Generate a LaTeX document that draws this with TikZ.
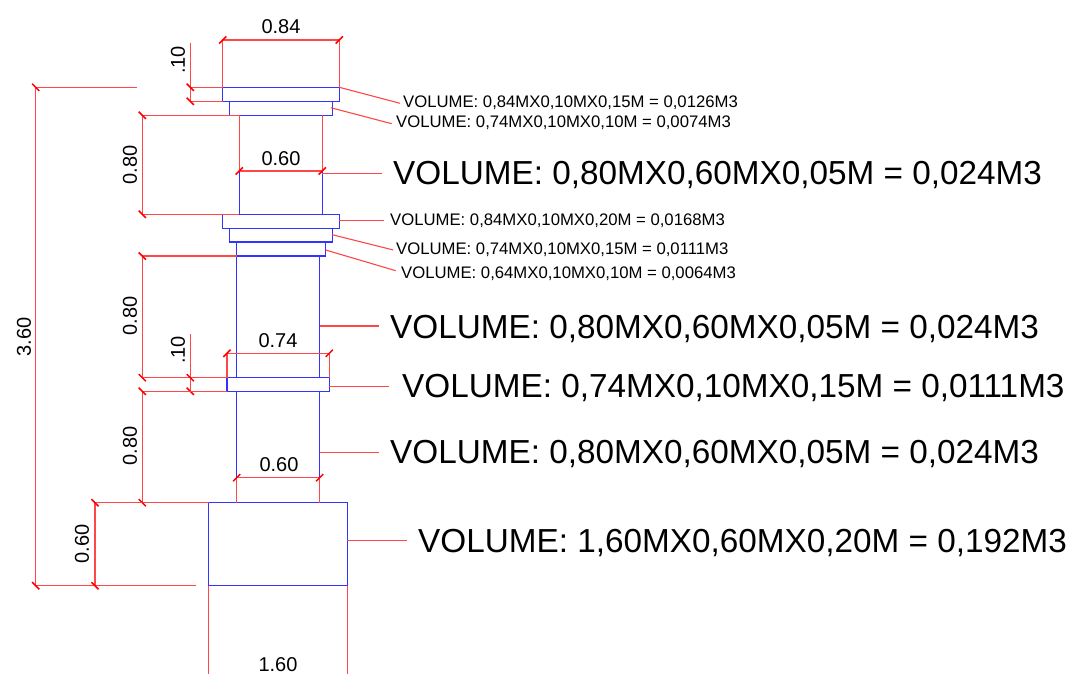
\documentclass[tikz,border=0pt]{standalone}
\usepackage{fontspec}
\setmainfont{Liberation Sans}

\tikzset{
  wall/.style={draw=blue!80!white,line width=1.1pt},
  dimline/.style={draw=red!72!white,line width=1.1pt},
  slash/.style={draw=red,line width=1.5pt},
  dimlabel/.style={font=\fontsize{20}{20}\selectfont,inner sep=0pt},
  volsmall/.style={font=\fontsize{16.7}{16.7}\selectfont,inner sep=0pt,anchor=west},
  vollarge/.style={font=\fontsize{33.3}{33.3}\selectfont,inner sep=0pt,anchor=west}
}
% slashes at the ends of the dimension lines
\newcommand{\tickv}[1]{\draw[slash] ([shift={(-3.6,-3.6)}]#1) -- ([shift={(3.6,3.6)}]#1);}
\newcommand{\tickh}[1]{\draw[slash] ([shift={(-3.6,3.6)}]#1) -- ([shift={(3.6,-3.6)}]#1);}

\begin{document}
\begin{tikzpicture}[x=1pt,y=-1pt]
\useasboundingbox (0,0) rectangle (1070,674);

% the column, top to bottom
\draw[wall] (222.7,87.3) rectangle (339.3,101.3);
\draw[wall] (229.7,101.3) rectangle (332.3,115.3);
\draw[wall] (239.3,171) -- (239.3,214.3);
\draw[wall] (322.3,171) -- (322.3,214.3);
\draw[wall] (222.7,214.3) rectangle (339.3,228.3);
\draw[wall] (229.7,228.3) rectangle (332.3,242);
\draw[wall] (236.7,242) rectangle (325.7,256);
\draw[wall] (236.7,256) -- (236.7,377.7);
\draw[wall] (319.7,256) -- (319.7,377.7);
\draw[wall] (227,377.7) rectangle (329.3,391.3);
\draw[wall] (236.7,391.3) -- (236.7,477.7);
\draw[wall] (319.7,391.3) -- (319.7,477.7);
\draw[wall] (208.7,502.7) rectangle (347.3,585.7);

% overall height
\draw[dimline] (136.7,87.3) -- (35.7,87.3) -- (35.7,585.7) -- (195.7,585.7);
\tickv{35.7,87.3}
\tickv{35.7,585.7}
\node[dimlabel,rotate=90] (hTotal) at (24,337) {3.60};

% 0.84 and .10 at the top
\draw[dimline] (222.7,87.3) -- (222.7,40) -- (339.3,40) -- (339.3,87.3);
\tickh{222.7,40}
\tickh{339.3,40}
\node[dimlabel] (wTop) at (281,27) {0.84};
\draw[dimline] (190.3,43) -- (190.3,101.3);
\draw[dimline] (190.3,87.3) -- (222.7,87.3);
\draw[dimline] (190.3,101.3) -- (222.7,101.3);
\tickv{190.3,87.3}
\tickv{190.3,101.3}
\node[dimlabel,rotate=90] (hTop) at (178,60) {.10};

% upper shaft
\draw[dimline] (239.3,115.3) -- (142.3,115.3) -- (142.3,214.3) -- (239.3,214.3);
\tickv{142.3,115.3}
\tickv{142.3,214.3}
\node[dimlabel,rotate=90] (hShaftA) at (130,165) {0.80};
\draw[dimline] (239.3,115.3) -- (239.3,171) -- (322.3,171) -- (322.3,115.3);
\tickh{239.3,171}
\tickh{322.3,171}
\node[dimlabel] (wShaftA) at (281,159) {0.60};

% middle shaft
\draw[dimline] (236.7,256) -- (142.3,256) -- (142.3,377.7) -- (227,377.7);
\tickv{142.3,256}
\tickv{142.3,377.7}
\node[dimlabel,rotate=90] (hShaftB) at (130,316) {0.80};
\draw[dimline] (190.3,334) -- (190.3,391.3);
\tickv{190.3,377.7}
\tickv{190.3,391.3}
\node[dimlabel,rotate=90] (hBand) at (178,350) {.10};
\draw[dimline] (227,377.7) -- (227,353.3) -- (329.3,353.3) -- (329.3,377.7);
\tickh{227,353.3}
\tickh{329.3,353.3}
\node[dimlabel] (wBand) at (278,341) {0.74};

% lower shaft
\draw[dimline] (227,391.3) -- (142.3,391.3) -- (142.3,502.7) -- (208.7,502.7);
\tickv{142.3,391.3}
\tickv{142.3,502.7}
\node[dimlabel,rotate=90] (hShaftC) at (130,446) {0.80};
\draw[dimline] (236.7,502.7) -- (236.7,477.7) -- (319.7,477.7) -- (319.7,502.7);
\tickh{236.7,477.7}
\tickh{319.7,477.7}
\node[dimlabel] (wShaftC) at (279,465) {0.60};

% footing
\draw[dimline] (142.3,502.7) -- (95,502.7) -- (95,585.7);
\tickv{95,502.7}
\tickv{95,585.7}
\node[dimlabel,rotate=90] (hFoot) at (82,544) {0.60};
\draw[dimline] (208.7,585.7) -- (208.7,674);
\draw[dimline] (347.3,585.7) -- (347.3,674);
\node[dimlabel] (wFoot) at (278,665) {1.60};

% volumes
\node[volsmall] (volA) at (403,102.5) {VOLUME: 0,84MX0,10MX0,15M = 0,0126M3};
\node[volsmall] (volB) at (396,122.5) {VOLUME: 0,74MX0,10MX0,10M = 0,0074M3};
\node[vollarge] (volC) at (393,175) {VOLUME: 0,80MX0,60MX0,05M = 0,024M3};
\node[volsmall] (volD) at (390,221) {VOLUME: 0,84MX0,10MX0,20M = 0,0168M3};
\node[volsmall] (volE) at (396,249.5) {VOLUME: 0,74MX0,10MX0,15M = 0,0111M3};
\node[volsmall] (volF) at (401,273.5) {VOLUME: 0,64MX0,10MX0,10M = 0,0064M3};
\node[vollarge] (volG) at (390,329) {VOLUME: 0,80MX0,60MX0,05M = 0,024M3};
\node[vollarge] (volH) at (402,387.5) {VOLUME: 0,74MX0,10MX0,15M = 0,0111M3};
\node[vollarge] (volI) at (390,454) {VOLUME: 0,80MX0,60MX0,05M = 0,024M3};
\node[vollarge] (volJ) at (418,542.5) {VOLUME: 1,60MX0,60MX0,20M = 0,192M3};

\coordinate (endA) at (400,103.3);
\coordinate (endB) at (391.7,123.7);
\coordinate (endC) at (381.7,173.7);
\coordinate (endD) at (384.3,220.7);
\coordinate (endE) at (393.3,250);
\coordinate (endF) at (395.7,270.7);
\coordinate (endG) at (379,326);
\coordinate (endH) at (389,386.3);
\coordinate (endI) at (379,452.3);
\coordinate (endJ) at (406.7,540.7);
\draw[dimline] (339.3,87.3) -- (endA);
\draw[dimline] (330.7,107.7) -- (endB);
\draw[dimline] (322.3,173.7) -- (endC);
\draw[dimline] (339.3,220.7) -- (endD);
\draw[dimline] (332.3,234.7) -- (endE);
\draw[dimline] (325.7,250) -- (endF);
\draw[dimline] (319.7,326) -- (endG);
\draw[dimline] (329.3,386.3) -- (endH);
\draw[dimline] (319.7,452.3) -- (endI);
\draw[dimline] (347.3,540.7) -- (endJ);

\end{tikzpicture}
\end{document}
